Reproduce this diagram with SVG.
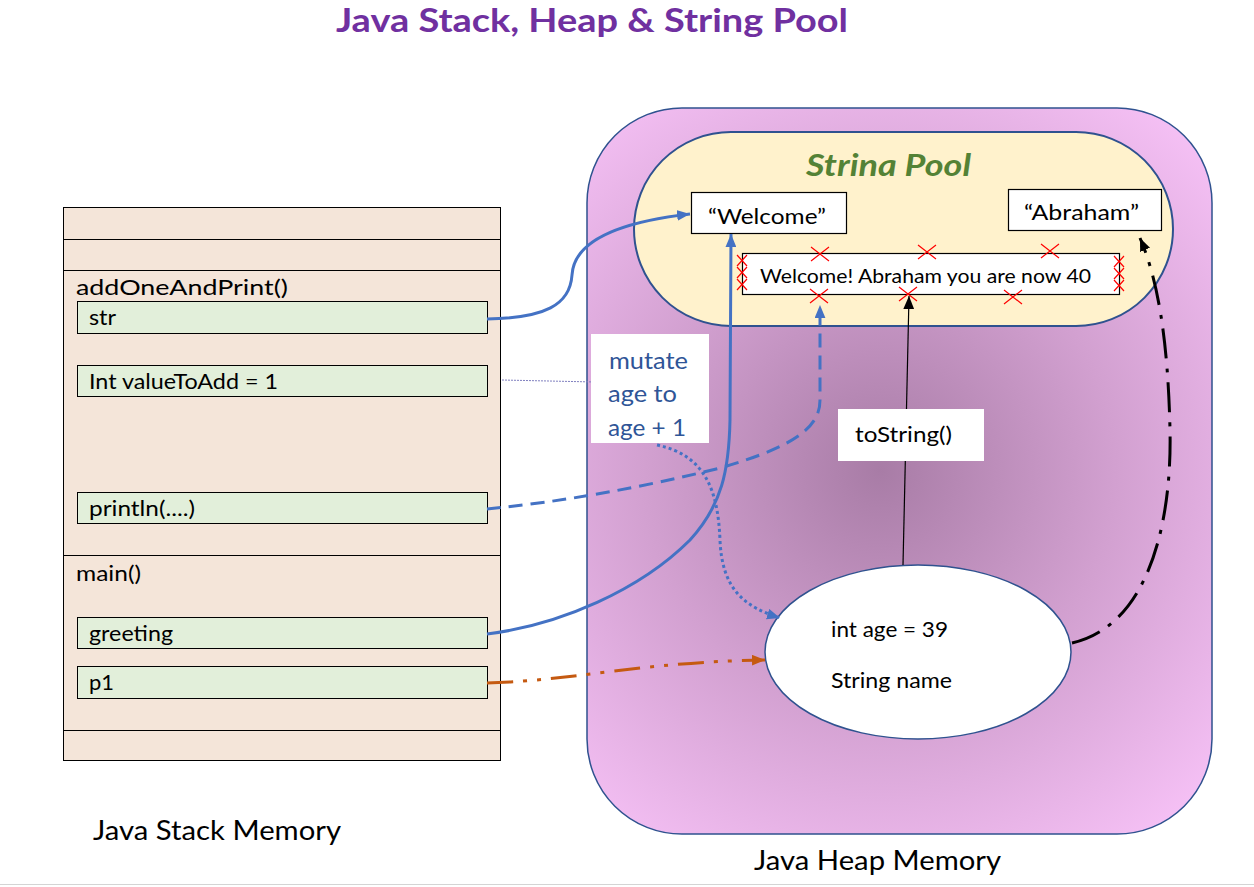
<svg xmlns="http://www.w3.org/2000/svg" width="1254" height="887" viewBox="0 0 1254 887">
  <defs>
    <radialGradient id="heapGrad" gradientUnits="userSpaceOnUse" cx="880" cy="470" r="470">
      <stop offset="0" stop-color="#a87ca6"/>
      <stop offset="0.5" stop-color="#d2a0d0"/>
      <stop offset="1" stop-color="#f7c2f7"/>
    </radialGradient>
    <marker id="arrBlue" markerUnits="userSpaceOnUse" viewBox="0 0 12 10" refX="12" refY="5" markerWidth="13" markerHeight="11" orient="auto">
      <path d="M0,0 L12,5 L0,10 Z" fill="#4472c4"/>
    </marker>
    <marker id="arrOrange" markerUnits="userSpaceOnUse" viewBox="0 0 12 10" refX="12" refY="5" markerWidth="13" markerHeight="11" orient="auto">
      <path d="M0,0 L12,5 L0,10 Z" fill="#c55a11"/>
    </marker>
    <marker id="arrBlack" markerUnits="userSpaceOnUse" viewBox="0 0 12 10" refX="12" refY="5" markerWidth="13" markerHeight="11" orient="auto">
      <path d="M0,0 L12,5 L0,10 Z" fill="#000"/>
    </marker>
  </defs>
  <style>
    text { font-family: Lato, "Open Sans", "Liberation Sans", sans-serif; fill: #000; }
    .lbl { font-size: 22px; }
    .var { fill: #e2efda; stroke: #000; stroke-width: 1; }
    .div { stroke: #000; stroke-width: 1; }
    .wbox { fill: #fff; stroke: #000; stroke-width: 1.2; }
    .cross { stroke: #ff0000; stroke-width: 1.2; fill: none; }
    .conn { fill: none; stroke-width: 3; }
    .mut { font-size: 23px; fill: #2f5597; }
  </style>

  <rect x="0" y="0" width="1254" height="887" fill="#fff"/>
  <line x1="0" y1="884.5" x2="1254" y2="884.5" stroke="#d4d4d4" stroke-width="1"/>

  <text id="title" x="336" y="32" font-size="32" font-weight="bold" style="fill:#7030a0" textLength="512" lengthAdjust="spacingAndGlyphs">Java Stack, Heap &amp; String Pool</text>

  <!-- Stack -->
  <g id="stack">
    <rect x="63.5" y="207.5" width="437" height="553" fill="#f4e5d9" stroke="#000" stroke-width="1"/>
    <line class="div" x1="63.5" y1="239.5" x2="500.5" y2="239.5"/>
    <line class="div" x1="63.5" y1="270.5" x2="500.5" y2="270.5"/>
    <line class="div" x1="63.5" y1="555.5" x2="500.5" y2="555.5"/>
    <line class="div" x1="63.5" y1="730.5" x2="500.5" y2="730.5"/>
    <text class="lbl" x="76" y="295" textLength="212" lengthAdjust="spacingAndGlyphs">addOneAndPrint()</text>
    <text class="lbl" x="76" y="581" textLength="65" lengthAdjust="spacingAndGlyphs">main()</text>
  </g>
  <g id="var-str">
    <rect class="var" x="77.5" y="301.5" width="410" height="32"/>
    <text class="lbl" x="89" y="325" textLength="27" lengthAdjust="spacingAndGlyphs">str</text>
  </g>
  <g id="var-valueToAdd">
    <rect class="var" x="77.5" y="365.5" width="410" height="31"/>
    <text class="lbl" x="89" y="389" textLength="189" lengthAdjust="spacingAndGlyphs">Int valueToAdd = 1</text>
  </g>
  <g id="var-println">
    <rect class="var" x="77.5" y="492.5" width="410" height="31"/>
    <text class="lbl" x="89" y="516" textLength="106" lengthAdjust="spacingAndGlyphs">println(....)</text>
  </g>
  <g id="var-greeting">
    <rect class="var" x="77.5" y="617.5" width="410" height="31"/>
    <text class="lbl" x="89" y="641" textLength="84" lengthAdjust="spacingAndGlyphs">greeting</text>
  </g>
  <g id="var-p1">
    <rect class="var" x="77.5" y="666.5" width="410" height="32"/>
    <text class="lbl" x="89" y="690" textLength="25" lengthAdjust="spacingAndGlyphs">p1</text>
  </g>
  <text id="stack-label" x="93" y="840" font-size="27" textLength="248" lengthAdjust="spacingAndGlyphs">Java Stack Memory</text>

  <!-- Heap -->
  <g id="heap">
    <rect x="587" y="108" width="625" height="726" rx="95" ry="95" fill="url(#heapGrad)" stroke="#2f528f" stroke-width="1.5"/>
  </g>
  <text id="heap-label" x="754" y="870" font-size="27" textLength="247" lengthAdjust="spacingAndGlyphs">Java Heap Memory</text>

  <g id="string-pool">
    <rect x="634" y="132" width="539" height="194" rx="97" ry="97" fill="#fff2cc" stroke="#2f528f" stroke-width="2"/>
    <text x="806" y="176" font-size="30" font-weight="bold" font-style="italic" style="fill:#548235" textLength="165" lengthAdjust="spacingAndGlyphs">Strina Pool</text>
  </g>

  <g id="str-welcome">
    <rect class="wbox" x="691.5" y="192.5" width="155" height="41"/>
    <text x="708" y="224" font-size="22" textLength="118" lengthAdjust="spacingAndGlyphs">“Welcome”</text>
  </g>
  <g id="str-abraham">
    <rect class="wbox" x="1008.5" y="189.5" width="153" height="41"/>
    <text x="1024" y="220" font-size="22" textLength="115" lengthAdjust="spacingAndGlyphs">“Abraham”</text>
  </g>
  <g id="str-message">
    <rect class="wbox" x="742.5" y="253.5" width="377" height="41"/>
    <text x="760" y="283" font-size="20" textLength="331" lengthAdjust="spacingAndGlyphs">Welcome! Abraham you are now 40</text>
    <g class="cross">
      <path d="M811,247 L829,261 M829,247 L811,261"/>
      <path d="M918,245 L936,259 M936,245 L918,259"/>
      <path d="M1041,244 L1059,258 M1059,244 L1041,258"/>
      <path d="M810,289 L828,303 M828,289 L810,303"/>
      <path d="M899,287 L917,301 M917,287 L899,301"/>
      <path d="M1004,290 L1022,304 M1022,290 L1004,304"/>
      <path d="M737,255 L747,266 M747,255 L737,266"/>
      <path d="M737,267 L747,278 M747,267 L737,278"/>
      <path d="M737,279 L747,290 M747,279 L737,290"/>
      <path d="M1114,256 L1124,267 M1124,256 L1114,267"/>
      <path d="M1114,268 L1124,279 M1124,268 L1114,279"/>
      <path d="M1114,280 L1124,291 M1124,280 L1114,291"/>
    </g>
  </g>

  <g id="person-object">
    <ellipse cx="918" cy="652" rx="153" ry="87" fill="#fff" stroke="#2f528f" stroke-width="1.5"/>
    <text x="831" y="637" font-size="21" textLength="117" lengthAdjust="spacingAndGlyphs">int age = 39</text>
    <text x="831" y="688" font-size="21" textLength="121" lengthAdjust="spacingAndGlyphs">String name</text>
  </g>

  <!-- Connectors -->
  <g id="connectors">
    <path d="M502,380 L595,382" fill="none" stroke="#7f7fbf" stroke-width="1" stroke-dasharray="2,1"/>
    <path class="conn" d="M487,319 C545,318 570,305 572,275 C574,240 620,222 690,214" stroke="#4472c4" marker-end="url(#arrBlue)"/>
    <path class="conn" d="M487,634 C560,625 640,590 690,540 C722,505 729,470 730,420 L731,234" stroke="#4472c4" marker-end="url(#arrBlue)"/>
    <path class="conn" d="M487,509 C560,502 640,488 720,468 C800,445 820,425 820,400 L820,305" stroke="#4472c4" stroke-dasharray="14,8" marker-end="url(#arrBlue)"/>
    <path class="conn" d="M657,445 C705,455 718,490 720,540 C722,590 745,607 780,618" stroke="#4472c4" stroke-dasharray="3,3" marker-end="url(#arrBlue)"/>
    <path class="conn" d="M487,683 C580,680 640,662 765,660" stroke="#c55a11" stroke-dasharray="26,10,4,10,4,10" marker-end="url(#arrOrange)"/>
    <path class="conn" d="M1072,643 C1150,625 1172,520 1170,430 C1168,340 1158,280 1140,238" stroke="#000" stroke-dasharray="30,10,4,10" marker-end="url(#arrBlack)"/>
    <path d="M903,565 C905,450 908,350 909,296" fill="none" stroke="#000" stroke-width="1.2" marker-end="url(#arrBlack)"/>
  </g>

  <g id="label-mutate">
    <rect x="591" y="334" width="118" height="109" fill="#fff"/>
    <text class="mut" x="609" y="369" textLength="79" lengthAdjust="spacingAndGlyphs">mutate</text>
    <text class="mut" x="608" y="402" textLength="69" lengthAdjust="spacingAndGlyphs">age to</text>
    <svg x="591" y="334" width="118" height="109" viewBox="591 334 118 109" overflow="hidden">
      <text class="mut" x="608" y="436" textLength="78" lengthAdjust="spacingAndGlyphs">age + 1</text>
    </svg>
  </g>

  <g id="label-toString">
    <rect x="838" y="409" width="146" height="52" fill="#fff"/>
    <text x="855" y="442" font-size="21" textLength="97" lengthAdjust="spacingAndGlyphs">toString()</text>
  </g>
</svg>
